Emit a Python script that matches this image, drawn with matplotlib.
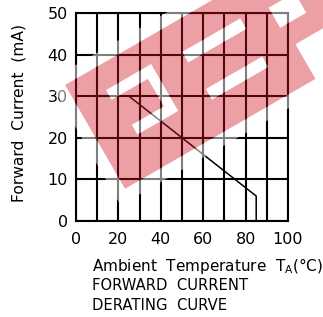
import matplotlib
matplotlib.use("Agg")
import matplotlib.pyplot as plt
import numpy as np
from matplotlib.path import Path
from matplotlib.patches import PathPatch

# derating curve: forward current vs ambient temperature
temp    = [25, 85, 85]
current = [30, 6, 0]
x_ticks = [0, 20, 40, 60, 80, 100]
y_ticks = [0, 10, 20, 30, 40, 50]
x_grid  = list(range(0, 101, 10))
y_grid  = list(range(0, 51, 10))

W, H = 323, 317
fig = plt.figure(figsize=(W / 100, H / 100), dpi=100)
ax = fig.add_axes([76 / W, 1 - 221 / H, 212 / W, 208 / H])

ax.plot(temp, current, color="black", lw=1.1, zorder=3)
ax.set_xlim(0, 100)
ax.set_ylim(0, 50)
ax.set_xticks(x_ticks)
ax.set_yticks(y_ticks)
ax.set_xticks(x_grid, minor=True)
ax.set_yticks(y_grid, minor=True)
ax.grid(which="both", color="black", lw=1.5)
ax.tick_params(which="both", length=0, labelsize=11.5)
ax.tick_params(axis="x", pad=8)
ax.tick_params(axis="y", pad=6)
for s in ax.spines.values():
    s.set_linewidth(1.5)

fig.text(19 / W, 1 - 113 / H, "Forward  Current  (mA)", rotation=90,
         ha="center", va="center", fontsize=11.2)
fig.text(92 / W, 1 - 266 / H, r"Ambient  Temperature  T$_\mathregular{A}$(°C)",
         ha="left", va="center", fontsize=11)
fig.text(92 / W, 1 - 286 / H, "FORWARD  CURRENT", ha="left", va="center", fontsize=10.6)
fig.text(92 / W, 1 - 306 / H, "DERATING  CURVE", ha="left", va="center", fontsize=10.6)

# --- red watermark over the chart (in pixel space, rotated 30 deg) ---
ORIGIN = np.array([65.0, 85.0])
ang = np.radians(30)
U = np.array([np.cos(ang), -np.sin(ang)])
V = np.array([np.sin(ang), np.cos(ang)])


def to_fig(ring):
    pts = np.array([ORIGIN + u * U + v * V for u, v in ring])
    return np.column_stack([pts[:, 0] / W, 1 - pts[:, 1] / H])


def rect(u0, u1, v0, v1):
    return [(u0, v0), (u1, v0), (u1, v1), (u0, v1)]


def compound(rings):
    verts, codes = [], []
    for ring in rings:
        r = to_fig(ring)
        verts += list(r) + [r[0]]
        codes += [Path.MOVETO] + [Path.LINETO] * (len(r) - 1) + [Path.CLOSEPOLY]
    return Path(verts, codes)


band = [(0, 0), (290, 0), (290, 80), (220, 80), (220, 120), (0, 120)]
halo = [(-12, -12), (302, -12), (302, 92), (232, 92), (232, 132), (-12, 132)]
holes = [
    rect(33, 85, 25, 36), rect(75, 85, 36, 68), rect(38, 85, 68, 79),
    rect(118, 185, 30, 42), rect(120, 185, 74, 86),
    rect(215, 245, 35, 58),
]

red = compound([band] + [h[::-1] for h in holes])
fig.add_artist(PathPatch(red, transform=fig.transFigure, facecolor=(0.82, 0.07, 0.12),
                         alpha=0.4, lw=0, zorder=10))
white = compound([halo, band[::-1]] + holes)
fig.add_artist(PathPatch(white, transform=fig.transFigure, facecolor="white",
                         alpha=0.5, lw=0, zorder=10))

fig.savefig("out.png", dpi=100)
